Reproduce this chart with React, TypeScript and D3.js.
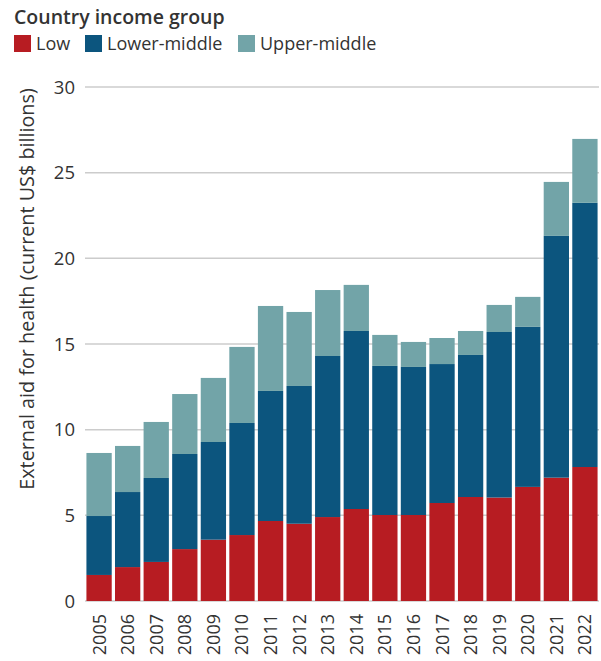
import React from "react";
import * as d3 from "d3";

const years = ["2005","2006","2007","2008","2009","2010","2011","2012","2013","2014","2015","2016","2017","2018","2019","2020","2021","2022"];
const low = [1.52,1.98,2.28,3.03,3.58,3.85,4.67,4.51,4.90,5.37,5.02,5.02,5.72,6.07,6.04,6.66,7.20,7.82];
const lowerMiddle = [3.44,4.38,4.90,5.55,5.70,6.54,7.59,8.04,9.40,10.39,8.70,8.64,8.11,8.29,9.66,9.34,14.11,15.42];
const upperMiddle = [3.68,2.69,3.27,3.50,3.74,4.44,4.96,4.32,3.85,2.69,1.81,1.46,1.52,1.40,1.58,1.75,3.15,3.73];
const seriesKeys = ["Low","Lower-middle","Upper-middle"];
const seriesColors = ["#B71C22","#0C557E","#72A4A8"];
const yTicks = [0,5,10,15,20,25,30];

const W = 601, H = 661;
const left = 85, right = 599, top = 87, bottom = 601;
const font = "'Open Sans', 'DejaVu Sans', sans-serif";

export default function App() {
  const rows = years.map((y, i) => ({ year: y, "Low": low[i], "Lower-middle": lowerMiddle[i], "Upper-middle": upperMiddle[i] }));
  const stack = d3.stack<any>().keys(seriesKeys)(rows);
  const x = d3.scaleBand().domain(years).range([left, right]).paddingInner(0.115).paddingOuter(0.05);
  const y = d3.scaleLinear().domain([0, 30]).range([bottom, top]);
  return (
    <svg width={W} height={H} style={{ position: "absolute", left: 0, top: 0 }} fontFamily={font}>
      <text x={14} y={24} fontSize={19.5} fontWeight={600} fill="#333">Country income group</text>
      {[{ k: 0, x: 14 }, { k: 1, x: 85 }, { k: 2, x: 238 }].map(l => (
        <g key={l.k}>
          <rect x={l.x} y={35} width={17} height={17} fill={seriesColors[l.k]} />
          <text x={l.x + 22} y={50} fontSize={18} fill="#333">{seriesKeys[l.k]}</text>
        </g>
      ))}
      {yTicks.map(t => (
        <g key={t}>
          <line x1={left} x2={right} y1={y(t)} y2={y(t)} stroke="#cccccc" strokeWidth={1.5} />
          <text x={75} y={y(t)} dy="0.36em" textAnchor="end" fontSize={18.5} fill="#333">{t}</text>
        </g>
      ))}
      {stack.map((s, si) => (
        <g key={si} fill={seriesColors[si]}>
          {s.map((d, i) => (
            <rect key={i} x={x(years[i])} width={x.bandwidth()} y={y(d[1])} height={y(d[0]) - y(d[1])} />
          ))}
        </g>
      ))}
      {years.map(yr => (
        <text key={yr} transform={`translate(${(x(yr) as number) + x.bandwidth() / 2},614) rotate(-90)`} textAnchor="end" dy="0.36em" fontSize={18} fill="#333">{yr}</text>
      ))}
      <text transform={`translate(27,289) rotate(-90)`} textAnchor="middle" dy="0.35em" fontSize={19.8} fill="#333">External aid for health (current US$ billions)</text>
    </svg>
  );
}
